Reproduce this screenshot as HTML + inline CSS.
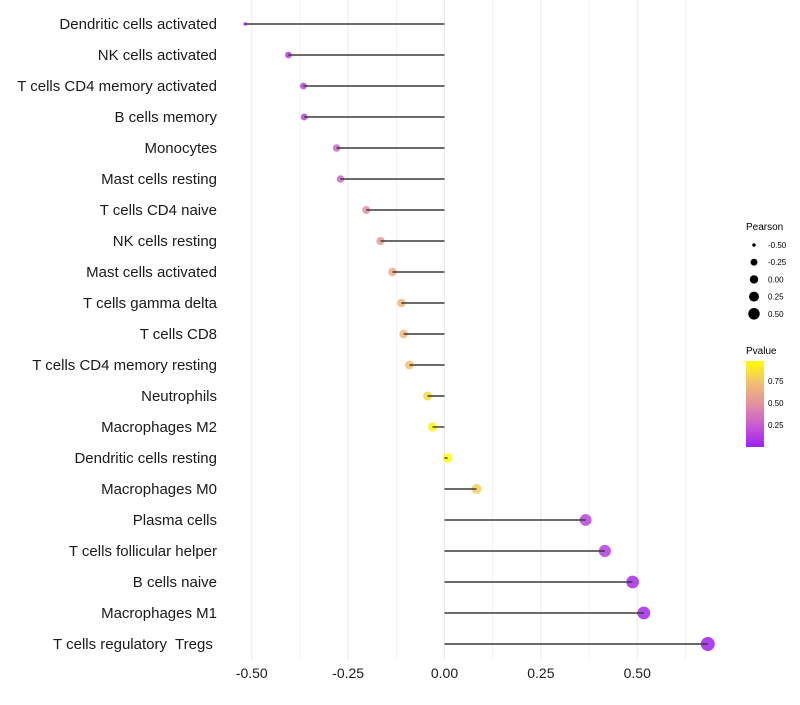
<!DOCTYPE html>
<html><head><meta charset="utf-8"><style>
body{margin:0;background:#fff;font-family:"Liberation Sans",sans-serif}
text{white-space:pre}
</style></head><body>
<svg id="chart" width="800" height="700" xmlns="http://www.w3.org/2000/svg" font-family="Liberation Sans, sans-serif">
<defs><linearGradient id="pg" x1="0" y1="1" x2="0" y2="0">
<stop offset="0" stop-color="#a020f0"/><stop offset="0.25" stop-color="#c85ad2"/><stop offset="0.5" stop-color="#e3909f"/><stop offset="0.75" stop-color="#f2c070"/><stop offset="1" stop-color="#ffff00"/></linearGradient></defs>
<g id="grid"></g>
<g id="labels"></g>
<g id="marks"></g>
<g id="xticks"></g>
<g id="legP">
<text x="746" y="230" font-size="10">Pearson</text>
</g>
<g>
<text x="746" y="354" font-size="10">Pvalue</text>
<rect x="746" y="361" width="18" height="86" fill="url(#pg)"/>
<text x="768" y="384" font-size="8">0.75</text>
<text x="768" y="406" font-size="8">0.50</text>
<text x="768" y="428" font-size="8">0.25</text>
</g>
</svg>
<script>
const categories=["Dendritic cells activated","NK cells activated","T cells CD4 memory activated","B cells memory","Monocytes","Mast cells resting","T cells CD4 naive","NK cells resting","Mast cells activated","T cells gamma delta","T cells CD8","T cells CD4 memory resting","Neutrophils","Macrophages M2","Dendritic cells resting","Macrophages M0","Plasma cells","T cells follicular helper","B cells naive","Macrophages M1","T cells regulatory  Tregs "];
const pearson=[-0.517,-0.405,-0.366,-0.364,-0.28,-0.27,-0.203,-0.166,-0.135,-0.112,-0.106,-0.091,-0.044,-0.031,0.008,0.083,0.366,0.416,0.488,0.517,0.683];
const pvalue=[0.02,0.1,0.15,0.15,0.3,0.3,0.5,0.55,0.65,0.7,0.72,0.75,0.85,0.95,0.99,0.8,0.15,0.12,0.05,0.03,0.001];
const xTicks=[-0.5,-0.25,0,0.25,0.5];
const xTickLabels=["-0.50","-0.25","0.00","0.25","0.50"];
const legendValues=[-0.5,-0.25,0,0.25,0.5];
const legendLabels=["-0.50","-0.25","0.00","0.25","0.50"];
const NS="http://www.w3.org/2000/svg";
const x=v=>444.5+v*385.5;
const y=i=>24+i*31;
const r=v=>v< -0.405 ? Math.max(1.2,3.3-(-0.405-v)*14) : 3.3+(v+0.405)*3.4;
const stops=[[0,[160,32,240]],[0.25,[200,90,210]],[0.5,[227,144,159]],[0.75,[242,192,112]],[1,[255,255,0]]];
function col(p){for(let k=0;k<stops.length-1;k++){const[a,c1]=stops[k],[b,c2]=stops[k+1];if(p<=b){const t=(p-a)/(b-a);return`rgb(${c1.map((c,j)=>Math.round(c+(c2[j]-c)*t)).join(',')})`;}}return'rgb(255,255,0)';}
function mk(t,a,parent){const e=document.createElementNS(NS,t);for(const k in a)e.setAttribute(k,a[k]);parent.appendChild(e);return e;}
const grid=document.getElementById('grid');
for(let v=-0.5;v<=0.63;v+=0.125){const l=mk('line',{x1:x(v),x2:x(v),y1:0,y2:660,stroke:'#ebebeb','stroke-width':v*8%2===0?1:0.6},grid);

}
const lab=document.getElementById('labels'),marks=document.getElementById('marks'),xt=document.getElementById('xticks');
categories.forEach((c,i)=>{const t=mk('text',{x:217,y:y(i)+5,'font-size':15,'text-anchor':'end',fill:'#1a1a1a'},lab);t.textContent=c;


const p=mk('circle',{cx:x(pearson[i]),cy:y(i),r:r(pearson[i]),fill:col(pvalue[i]),'fill-opacity':0.85},marks);


const s=mk('line',{x1:x(0),x2:x(pearson[i]),y1:y(i),y2:y(i),stroke:'#3a3a3a','stroke-width':1.4},marks);

});
xTicks.forEach((v,i)=>{const t=mk('text',{x:x(v),y:678,'font-size':14,'text-anchor':'middle',fill:'#1a1a1a'},xt);t.textContent=xTickLabels[i];

});
const lp=document.getElementById('legP');
legendValues.forEach((v,i)=>{const cy=245+i*17.2;const c=mk('circle',{cx:754,cy:cy,r:r(v)*0.9,fill:'#000'},lp);


const t=mk('text',{x:768,y:cy+3,'font-size':8},lp);t.textContent=legendLabels[i];

});
</script>
</body></html>
